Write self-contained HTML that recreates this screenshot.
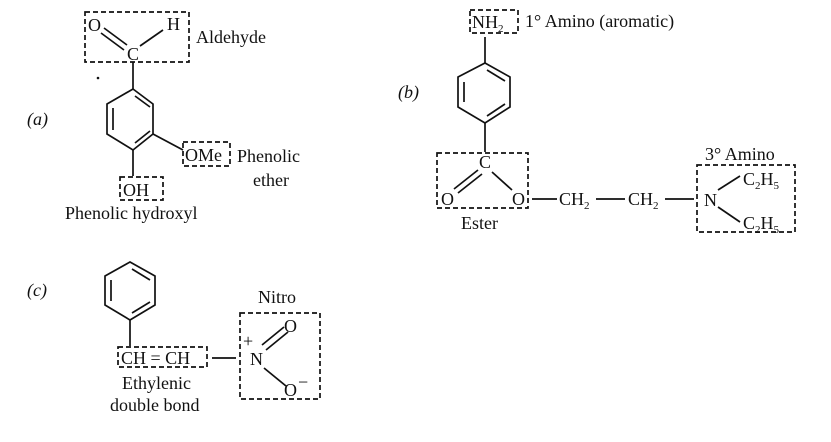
<!DOCTYPE html>
<html><head><style>html,body{margin:0;padding:0;background:#fff}svg{display:block}
text{font-family:"Liberation Serif",serif;font-size:18px;fill:#111}</style></head>
<body>
<svg width="831" height="442" viewBox="0 0 831 442" xmlns="http://www.w3.org/2000/svg">
<g stroke="#111" stroke-width="1.7" fill="none">
<!-- (a) -->
<rect x="85" y="12" width="104" height="50" stroke-dasharray="5,3"/>
<line x1="104" y1="28" x2="127" y2="45"/><line x1="101" y1="33" x2="124" y2="50"/>
<line x1="140" y1="46" x2="163" y2="30"/>
<line x1="133" y1="62" x2="133" y2="89"/>
<polygon points="133,89 153,104 153,134 133,150 107,134 107,104"/>
<line x1="113" y1="108" x2="113" y2="130"/><line x1="135" y1="143" x2="150" y2="131"/><line x1="135" y1="96" x2="150" y2="107"/>
<line x1="153" y1="134" x2="183" y2="150"/>
<rect x="183" y="142" width="47" height="24" stroke-dasharray="5,3"/>
<line x1="133" y1="150" x2="133" y2="176"/>
<rect x="120" y="177" width="43" height="23" stroke-dasharray="5,3"/>
<!-- (b) -->
<rect x="470" y="10" width="48" height="23" stroke-dasharray="5,3"/>
<line x1="485" y1="37" x2="485" y2="63"/>
<polygon points="485,63 510,77 510,107 485,123 458,107 458,77"/>
<line x1="464" y1="82" x2="464" y2="102"/><line x1="487" y1="70" x2="505" y2="81"/><line x1="487" y1="116" x2="505" y2="104"/>
<line x1="485" y1="123" x2="485" y2="152"/>
<rect x="437" y="153" width="91" height="55" stroke-dasharray="5,3"/>
<line x1="478" y1="170" x2="454" y2="189"/><line x1="482" y1="174" x2="458" y2="193"/>
<line x1="492" y1="172" x2="512" y2="190"/>
<line x1="532" y1="199" x2="557" y2="199"/><line x1="596" y1="199" x2="625" y2="199"/><line x1="665" y1="199" x2="694" y2="199"/>
<rect x="697" y="165" width="98" height="67" stroke-dasharray="5,3"/>
<line x1="718" y1="190" x2="740" y2="176"/><line x1="718" y1="207" x2="740" y2="222"/>
<!-- (c) -->
<polygon points="130,262 155,276 155,305 130,320 105,305 105,276"/>
<line x1="111" y1="280" x2="111" y2="301"/><line x1="132" y1="269" x2="150" y2="280"/><line x1="132" y1="313" x2="150" y2="302"/>
<line x1="130" y1="320" x2="130" y2="346"/>
<rect x="118" y="347" width="89" height="20" stroke-dasharray="5,3"/>
<line x1="212" y1="358" x2="236" y2="358"/>
<rect x="240" y="313" width="80" height="86" stroke-dasharray="5,3"/>
<line x1="262" y1="345" x2="284" y2="327"/><line x1="266" y1="350" x2="288" y2="332"/>
<line x1="264" y1="368" x2="286" y2="386"/>
</g>
<circle cx="98" cy="78" r="1.3" fill="#111"/>
<text x="27" y="125" font-style="italic">(a)</text>
<text x="88" y="31">O</text><text x="167" y="30">H</text><text x="127" y="60">C</text>
<text x="196" y="43">Aldehyde</text>
<text x="185" y="161">OMe</text><text x="237" y="162">Phenolic</text><text x="253" y="186">ether</text>
<text x="123" y="196">OH</text><text x="65" y="219">Phenolic hydroxyl</text>
<text x="398" y="98" font-style="italic">(b)</text>
<text x="472" y="28">NH<tspan font-size="11" dy="4">2</tspan></text>
<text x="525" y="27">1° Amino (aromatic)</text>
<text x="479" y="168">C</text><text x="441" y="205">O</text><text x="512" y="205">O</text>
<text x="461" y="229">Ester</text>
<text x="559" y="205">CH<tspan font-size="11" dy="4">2</tspan></text>
<text x="628" y="205">CH<tspan font-size="11" dy="4">2</tspan></text>
<text x="704" y="206">N</text>
<text x="705" y="160">3° Amino</text>
<text x="743" y="185">C<tspan font-size="11" dy="4">2</tspan><tspan dy="-4">H</tspan><tspan font-size="11" dy="4">5</tspan></text>
<text x="743" y="229">C<tspan font-size="11" dy="4">2</tspan><tspan dy="-4">H</tspan><tspan font-size="11" dy="4">5</tspan></text>
<text x="27" y="296" font-style="italic">(c)</text>
<text x="121" y="364">CH = CH</text>
<text x="258" y="303">Nitro</text>
<text x="250" y="365">N</text><text x="243" y="347" font-size="14">+</text>
<text x="284" y="332">O</text><text x="284" y="396">O</text><text x="298" y="388" font-size="14">−</text>
<text x="122" y="389">Ethylenic</text><text x="110" y="411">double bond</text>
</svg>
</body></html>
